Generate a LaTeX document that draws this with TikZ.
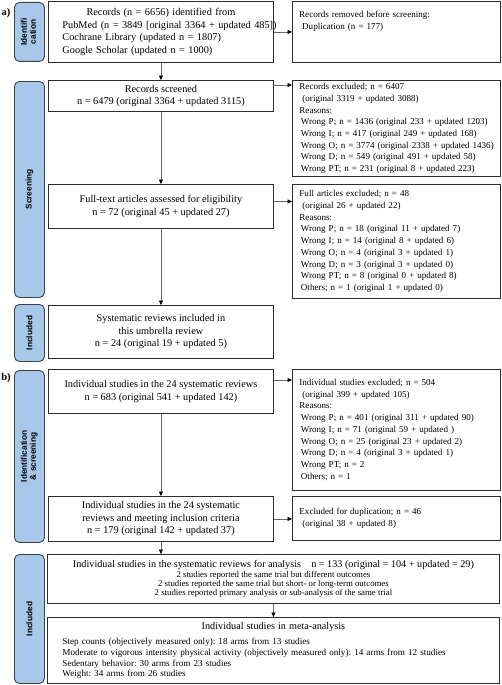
\documentclass[tikz,border=0pt]{standalone}
\usepackage{fontspec}
\setmainfont{Liberation Serif}
\newfontfamily\sidefont{Liberation Sans}
\usetikzlibrary{arrows.meta,calc}
\definecolor{barblue}{RGB}{167,200,232}
\definecolor{barline}{RGB}{60,66,74}
\definecolor{boxline}{RGB}{45,45,45}
\definecolor{arrline}{RGB}{105,105,105}
\newcommand\oneline[1]{\mbox{#1}}
\frenchspacing
\begin{document}
\begin{tikzpicture}[x=1pt,y=-1pt,
  sidebar/.style={draw=barline, line width=0.9pt, fill=barblue, rounded corners=5pt, minimum width=30pt, inner sep=0pt, anchor=north west, font=\sidefont\bfseries\fontsize{8.3}{9}\selectfont},
  lbox/.style={draw=boxline, line width=0.9pt, anchor=north west, inner sep=0pt, align=center, font=\fontsize{10.3}{12.5}\selectfont},
  rbox/.style={draw=boxline, line width=0.9pt, anchor=north west, inner xsep=7pt, inner ysep=0pt, text width=194pt, align=left, font=\fontsize{9.05}{11.7}\selectfont},
  rtext/.style={inner sep=0pt, anchor=north west, text width=194pt, align=left, font=\fontsize{9.05}{11.7}\selectfont},
  tag/.style={inner sep=0pt, font=\bfseries\fontsize{10.5}{12}\selectfont},
  arr/.style={draw=arrline, line width=0.6pt, -{Triangle[length=4.5pt,width=4pt,fill=black,color=black]}},
]
\useasboundingbox (0,0) rectangle (501,685);

% panel tags
\node[tag] (la) at (6,13) {a)};
\node[tag] (lb) at (6,378) {b)};

% side bars
\node[sidebar, minimum height=59pt] (s1) at (14,2) {\rotatebox{90}{\begin{tabular}{@{}c@{}}Identifi\\cation\end{tabular}}};
\node[sidebar, minimum height=216pt] (s2) at (14,81) {\rotatebox{90}{Screening}};
\node[sidebar, minimum height=57pt] (s3) at (14,304) {\rotatebox{90}{Included}};
\node[sidebar, minimum height=172pt] (s4) at (14,370) {\rotatebox{90}{\begin{tabular}{@{}c@{}}Identification\\\& screening\end{tabular}}};
\node[sidebar, minimum height=129pt] (s5) at (14,554) {\rotatebox{90}{Included}};

% left column (a)
\node[lbox, minimum width=225pt, minimum height=61pt, text width=197pt, inner xsep=14pt, align=left] (a1) at (48,1)
  {\makebox[\hsize][c]{Records (n = 6656) identified from}\\
   \oneline{PubMed (n = 3849 [original 3364 + updated 485])}\\
   \oneline{Cochrane Library (updated n = 1807)}\\
   \oneline{Google Scholar (updated n = 1000)}};
\node[lbox, minimum width=225pt, minimum height=31pt] (a2) at (48,80)
  {Records screened\\ n = 6479 (original 3364 + updated 3115)};
\node[lbox, minimum width=225pt, minimum height=44pt] (a3) at (48,184)
  {Full-text articles assessed for eligibility\\ n = 72 (original 45 + updated 27)};
\node[lbox, minimum width=225pt, minimum height=53pt] (a4) at (48,305)
  {Systematic reviews included in\\ this umbrella review\\ n = 24 (original 19 + updated 5)};

% right column (a)
\node[rbox, minimum height=61pt] (r1) at (292,1) {};
\node[rtext] (r1t) at ([xshift=7pt,yshift=-10pt]r1.north west)
  {\oneline{Records removed before screening:}\\ \oneline{\hspace*{3pt}Duplication (n = 177)}};
\node[rbox, minimum height=96pt] (r2) at (292,80)
  {\oneline{Records excluded; n = 6407}\\
   \oneline{\hspace*{3pt}(original 3319 + updated 3088)}\\
   \oneline{Reasons:}\\
   \oneline{\hspace*{1.5pt}Wrong P; n = 1436 (original 233 + updated 1203)}\\
   \oneline{\hspace*{1.5pt}Wrong I; n = 417 (original 249 + updated 168)}\\
   \oneline{\hspace*{1.5pt}Wrong O; n = 3774 (original 2338 + updated 1436)}\\
   \oneline{\hspace*{1.5pt}Wrong D; n = 549 (original 491 + updated 58)}\\
   \oneline{\hspace*{1.5pt}Wrong PT; n = 231 (original 8 + updated 223)}};
\node[rbox, minimum height=114pt] (r3) at (292,184)
  {\oneline{Full articles excluded; n = 48}\\
   \oneline{\hspace*{3pt}(original 26 + updated 22)}\\
   \oneline{Reasons:}\\
   \oneline{\hspace*{1.5pt}Wrong P; n = 18 (original 11 + updated 7)}\\
   \oneline{\hspace*{1.5pt}Wrong I; n = 14 (original 8 + updated 6)}\\
   \oneline{\hspace*{1.5pt}Wrong O; n = 4 (original 3 + updated 1)}\\
   \oneline{\hspace*{1.5pt}Wrong D; n = 3 (original 3 + updated 0)}\\
   \oneline{\hspace*{1.5pt}Wrong PT; n = 8 (original 0 + updated 8)}\\
   \oneline{\hspace*{1.5pt}Others; n = 1 (original 1 + updated 0)}};

% left column (b)
\node[lbox, minimum width=225pt, minimum height=44pt] (b1) at (48,369)
  {Individual studies in the 24 systematic reviews\\ n = 683 (original 541 + updated 142)};
\node[lbox, minimum width=225pt, minimum height=45pt] (b2) at (48,496)
  {Individual studies in the 24 systematic\\ reviews and meeting inclusion criteria\\ n = 179 (original 142 + updated 37)};
\node[lbox, minimum width=452pt, minimum height=49pt, font=\fontsize{8.8}{9.2}\selectfont] (b3) at (47,554)
  {{\fontsize{10.2}{11}\selectfont Individual studies in the systematic reviews for analysis\quad n = 133 (original = 104 + updated = 29)}\\[0.5pt]
   2 studies reported the same trial but different outcomes\\
   2 studies reported the same trial but short- or long-term outcomes\\
   2 studies reported primary analysis or sub-analysis of the same trial};
\node[lbox, minimum width=452pt, minimum height=66pt, text width=422pt, inner xsep=15pt, align=left, font=\fontsize{9.15}{10.6}\selectfont] (b4) at (47,617)
  {\makebox[\hsize][c]{\fontsize{10.2}{12}\selectfont Individual studies in meta-analysis}\\[5pt]
   \oneline{Step counts (objectively measured only): 18 arms from 13 studies}\\
   \oneline{Moderate to vigorous intensity physical activity (objectively measured only): 14 arms from 12 studies}\\
   \oneline{Sedentary behavior: 30 arms from 23 studies}\\
   \oneline{Weight: 34 arms from 26 studies}};

% right column (b)
\node[rbox, minimum height=121pt] (q1) at (292,369)
  {\oneline{Individual studies excluded; n = 504}\\
   \oneline{\hspace*{3pt}(original 399 + updated 105)}\\
   \oneline{Reasons:}\\
   \oneline{\hspace*{1.5pt}Wrong P; n = 401 (original 311 + updated 90)}\\
   \oneline{\hspace*{1.5pt}Wrong I; n = 71 (original 59 + updated )}\\
   \oneline{\hspace*{1.5pt}Wrong O; n = 25 (original 23 + updated 2)}\\
   \oneline{\hspace*{1.5pt}Wrong D; n = 4 (original 3 + updated 1)}\\
   \oneline{\hspace*{1.5pt}Wrong PT; n = 2}\\
   \oneline{\hspace*{1.5pt}Others; n = 1}};
\node[rbox, minimum height=44pt] (q2) at (292,496)
  {\oneline{Excluded for duplication; n = 46}\\
   \oneline{\hspace*{3pt}(original 38 + updated 8)}};

% connectors
\draw[arr] (a1) -- (a2);
\draw[arr] (a1.east) -- (a1.east -| r1.west);
\coordinate (p2) at ([yshift=-5pt]a2.north east);
\draw[arr] (p2) -- (p2 -| r2.west);
\draw[arr] (a2) -- (a3);
\coordinate (p3) at ([yshift=5pt]a3.east);
\draw[arr] (p3) -- (p3 -| r3.west);
\draw[arr] (a3) -- (a4);
\coordinate (p5) at ([yshift=-11pt]b1.north east);
\draw[arr] (p5) -- (p5 -| q1.west);
\draw[arr] (b1) -- (b2);
\draw[arr] (b2.east) -- (b2.east -| q2.west);
\draw[arr] (b2.south) -- (b2.south |- b3.north);
\draw[arr] (b3) -- (b4);
\end{tikzpicture}
\end{document}
